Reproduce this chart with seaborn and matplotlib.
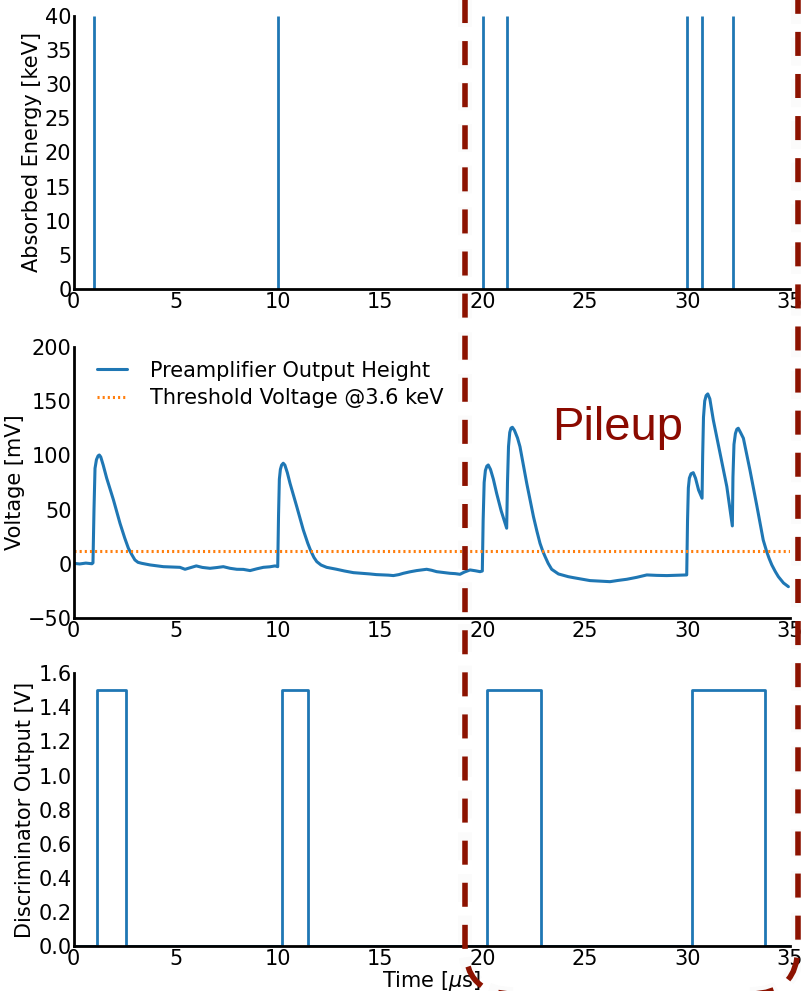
import matplotlib
matplotlib.use("Agg")
import matplotlib.pyplot as plt
from matplotlib.patches import FancyBboxPatch
from matplotlib.transforms import IdentityTransform
import numpy as np
import pandas as pd
import seaborn as sns

# ---- data -------------------------------------------------------------
# photon arrival times [us] and absorbed energies [keV]
hit_times = [1.0, 10.0, 20.0, 21.2, 30.0, 30.7, 32.25]
hit_energy = [40, 40, 40, 40, 40, 40, 40]

# preamplifier output trace
trace_t = [
    0.0, 0.3, 0.6, 0.9, 0.95, 1.0, 1.05, 1.12, 1.2, 1.26, 1.33, 1.45, 1.62,
    1.95, 2.27, 2.5, 2.68, 2.85, 3.0, 3.15, 3.33, 3.74, 4.0, 4.39, 4.8, 5.2,
    5.45, 5.7, 6.0, 6.3, 6.67, 7.0, 7.32, 7.65, 7.98, 8.3, 8.63, 8.95, 9.28,
    9.6, 9.85, 9.98,
    10.02, 10.06, 10.11, 10.17, 10.25, 10.33, 10.45, 10.58, 10.91, 11.23,
    11.45, 11.59, 11.75, 11.89, 12.1, 12.37, 12.86, 13.25, 13.68, 14.1, 14.49,
    14.8, 15.14, 15.4, 15.63, 15.9, 16.12, 16.45, 16.77, 17.0, 17.26, 17.5,
    17.75, 18.1, 18.4, 18.65, 18.89, 19.1, 19.38, 19.65, 19.87, 19.98,
    20.02, 20.07, 20.13, 20.2, 20.27, 20.38, 20.52, 20.68, 20.9, 21.17,
    21.21, 21.26, 21.32, 21.38, 21.45, 21.55, 21.7, 21.82, 22.15, 22.48,
    22.65, 22.8, 22.93, 23.05, 23.2, 23.37, 23.7, 24.18, 24.43, 24.85,
    25.24, 25.7, 26.22, 26.6, 27.04, 27.53, 28.02, 28.5, 29.0, 29.5, 29.97,
    30.01, 30.05, 30.1, 30.18, 30.29, 30.4, 30.55, 30.72, 30.75, 30.79,
    30.85, 30.92, 31.0, 31.1, 31.27, 31.6, 31.93, 32.2, 32.23, 32.28,
    32.35, 32.42, 32.49, 32.6, 32.74, 33.06, 33.39, 33.71, 33.88, 34.0,
    34.13, 34.3, 34.45, 34.7, 34.94,
]
trace_mv = [
    0.6, 0.0, 0.8, 0.2, 1.0, 50, 88, 96, 99.5, 100.3, 98.5, 91, 79,
    59, 37.5, 24, 14.5, 8.5, 3.7, 1.5, 0.6, -0.9, -1.5, -2.5, -2.8, -3.1,
    -4.9, -3.5, -1.8, -3.2, -4.0, -3.3, -2.5, -4.0, -4.9, -5.0, -6.1, -4.5, -3.1,
    -2.6, -1.8, -2.5,
    45, 78, 87, 91, 92.7, 91, 84, 74.3, 52.8, 31.3,
    19, 12.3, 6, 2.1, -1, -3.1, -4.9, -6.5, -8.0, -8.6, -9.2,
    -9.8, -10.1, -10.3, -10.7, -9.8, -8.6, -7.2, -6.1, -5.5, -4.9, -5.8,
    -7.1, -7.9, -8.6, -8.9, -9.5, -7.5, -5.5, -6.3, -7.1, -6.5,
    40, 75, 86, 90, 91.1, 87, 78, 65, 49, 32.9,
    75, 108, 121, 125, 125.8, 123, 116, 108, 74.3, 43.5,
    30, 19, 12, 6.7, 0.5, -4.9, -9.2, -11.7, -12.6, -14,
    -15.3, -15.8, -16.3, -15.2, -14.1, -12.3, -10.1, -10.5, -10.7, -10.4, -10.1,
    40, 70, 79, 83, 84, 79, 68, 60.5, 100, 135,
    150, 155, 156.5, 152, 132.5, 101.9, 71.2, 35, 80, 110,
    120, 124, 124.9, 121, 115.7, 86.5, 54.3, 22, 11.3, 5,
    -0.9, -7, -11.7, -17.5, -20.9,
]

threshold_mv = 12.0
threshold_label = "Threshold Voltage @3.6 keV"
trace_label = "Preamplifier Output Height"

# discriminator gate windows [us] and output level [V]
gate_on = [1.13, 10.18, 20.2, 30.24]
gate_off = [2.55, 11.48, 22.85, 33.8]
gate_level = 1.5

t_max = 35

# ---- style ------------------------------------------------------------
sns.set_style("white")
plt.rcParams["font.family"] = ["DejaVu Sans"]
plt.rcParams["lines.scale_dashes"] = False
plt.rcParams["text.color"] = "black"
plt.rcParams["axes.labelcolor"] = "black"
blue = "#1f77b4"
orange = "#ff7f0e"
dark_red = "#8c1200"

fig = plt.figure(figsize=(8.01, 9.91), dpi=100)
left, width = 0.0918, 0.8940
ax1 = fig.add_axes([left, 0.7084, width, 0.2755])
ax2 = fig.add_axes([left, 0.3761, width, 0.2741])
ax3 = fig.add_axes([left, 0.0454, width, 0.2752])


def style_axis(ax):
    for side in ("top", "right"):
        ax.spines[side].set_visible(False)
    for side in ("left", "bottom"):
        ax.spines[side].set_color("black")
        ax.spines[side].set_linewidth(2.0)
    ax.tick_params(axis="both", direction="in", length=2.5, width=1,
                   labelsize=15, colors="black")
    ax.tick_params(axis="y", pad=1.5)
    ax.tick_params(axis="x", pad=2)
    ax.set_xlim(0, t_max)
    ax.set_xticks(range(0, t_max + 1, 5))
    ax.grid(False)


# ---- absorbed energy --------------------------------------------------
ax1.vlines(hit_times, 0, hit_energy, color=blue, lw=2)
style_axis(ax1)
ax1.set_ylim(0, 40)
ax1.set_yticks(range(0, 41, 5))
ax1.set_ylabel("Absorbed Energy [keV]", fontsize=15, labelpad=2)

# ---- preamplifier voltage --------------------------------------------
trace = pd.DataFrame({"t": trace_t, "mV": trace_mv})
sns.lineplot(data=trace, x="t", y="mV", ax=ax2, color=blue, lw=2.2,
             estimator=None, sort=False, label=trace_label)
ax2.axhline(threshold_mv, color=orange, ls=(0, (1.5, 2.2)), lw=2.2,
            label=threshold_label)
style_axis(ax2)
ax2.set_ylim(-50, 200)
ax2.set_yticks(range(-50, 201, 50))
ax2.set_xlabel("")
ax2.set_ylabel("Voltage [mV]", fontsize=15, labelpad=2)
leg = ax2.legend(loc="upper left", bbox_to_anchor=(0.033, 0.948),
                 frameon=False, fontsize=15, borderpad=0, borderaxespad=0,
                 handlelength=1.44, handletextpad=1.1, labelspacing=0.35)
for txt in leg.get_texts():
    txt.set_color("black")

# ---- discriminator output ---------------------------------------------
gate_t = [0.0]
gate_v = [0.0]
for a, b in zip(gate_on, gate_off):
    gate_t += [a, a, b, b]
    gate_v += [0.0, gate_level, gate_level, 0.0]
gate_t.append(t_max)
gate_v.append(0.0)
gate = pd.DataFrame({"t": gate_t, "V": gate_v})
sns.lineplot(data=gate, x="t", y="V", ax=ax3, color=blue, lw=2,
             estimator=None, sort=False)
style_axis(ax3)
ax3.set_ylim(0, 1.6)
ax3.set_yticks(np.round(np.arange(0, 1.61, 0.2), 1))
ax3.set_yticklabels([f"{v:.1f}" for v in np.arange(0, 1.61, 0.2)])
ax3.set_ylabel("Discriminator Output [V]", fontsize=15, labelpad=2)
ax3.set_xlabel(r"Time [$\mu$s]", fontsize=15, labelpad=0)

# ---- pileup highlight --------------------------------------------------
box_kw = dict(boxstyle="round,pad=0,rounding_size=48",
              transform=IdentityTransform(), fill=False)
glow = FancyBboxPatch((465, -3), 333, 1080, lw=10, ec="#909090", alpha=0.035,
                      ls=(0, (20, 10)), **box_kw)
box = FancyBboxPatch((465, -3), 333, 1080, lw=4, ec=dark_red,
                     ls=(0, (17.3, 13)), **box_kw)
fig.add_artist(glow)
fig.add_artist(box)
fig.text(618 / 801, 1 - 440 / 991, "Pileup", color="#8b0a00", fontsize=34,
         family=["Liberation Sans", "DejaVu Sans"], ha="center", va="baseline")

fig.savefig("out.png", dpi=100)
